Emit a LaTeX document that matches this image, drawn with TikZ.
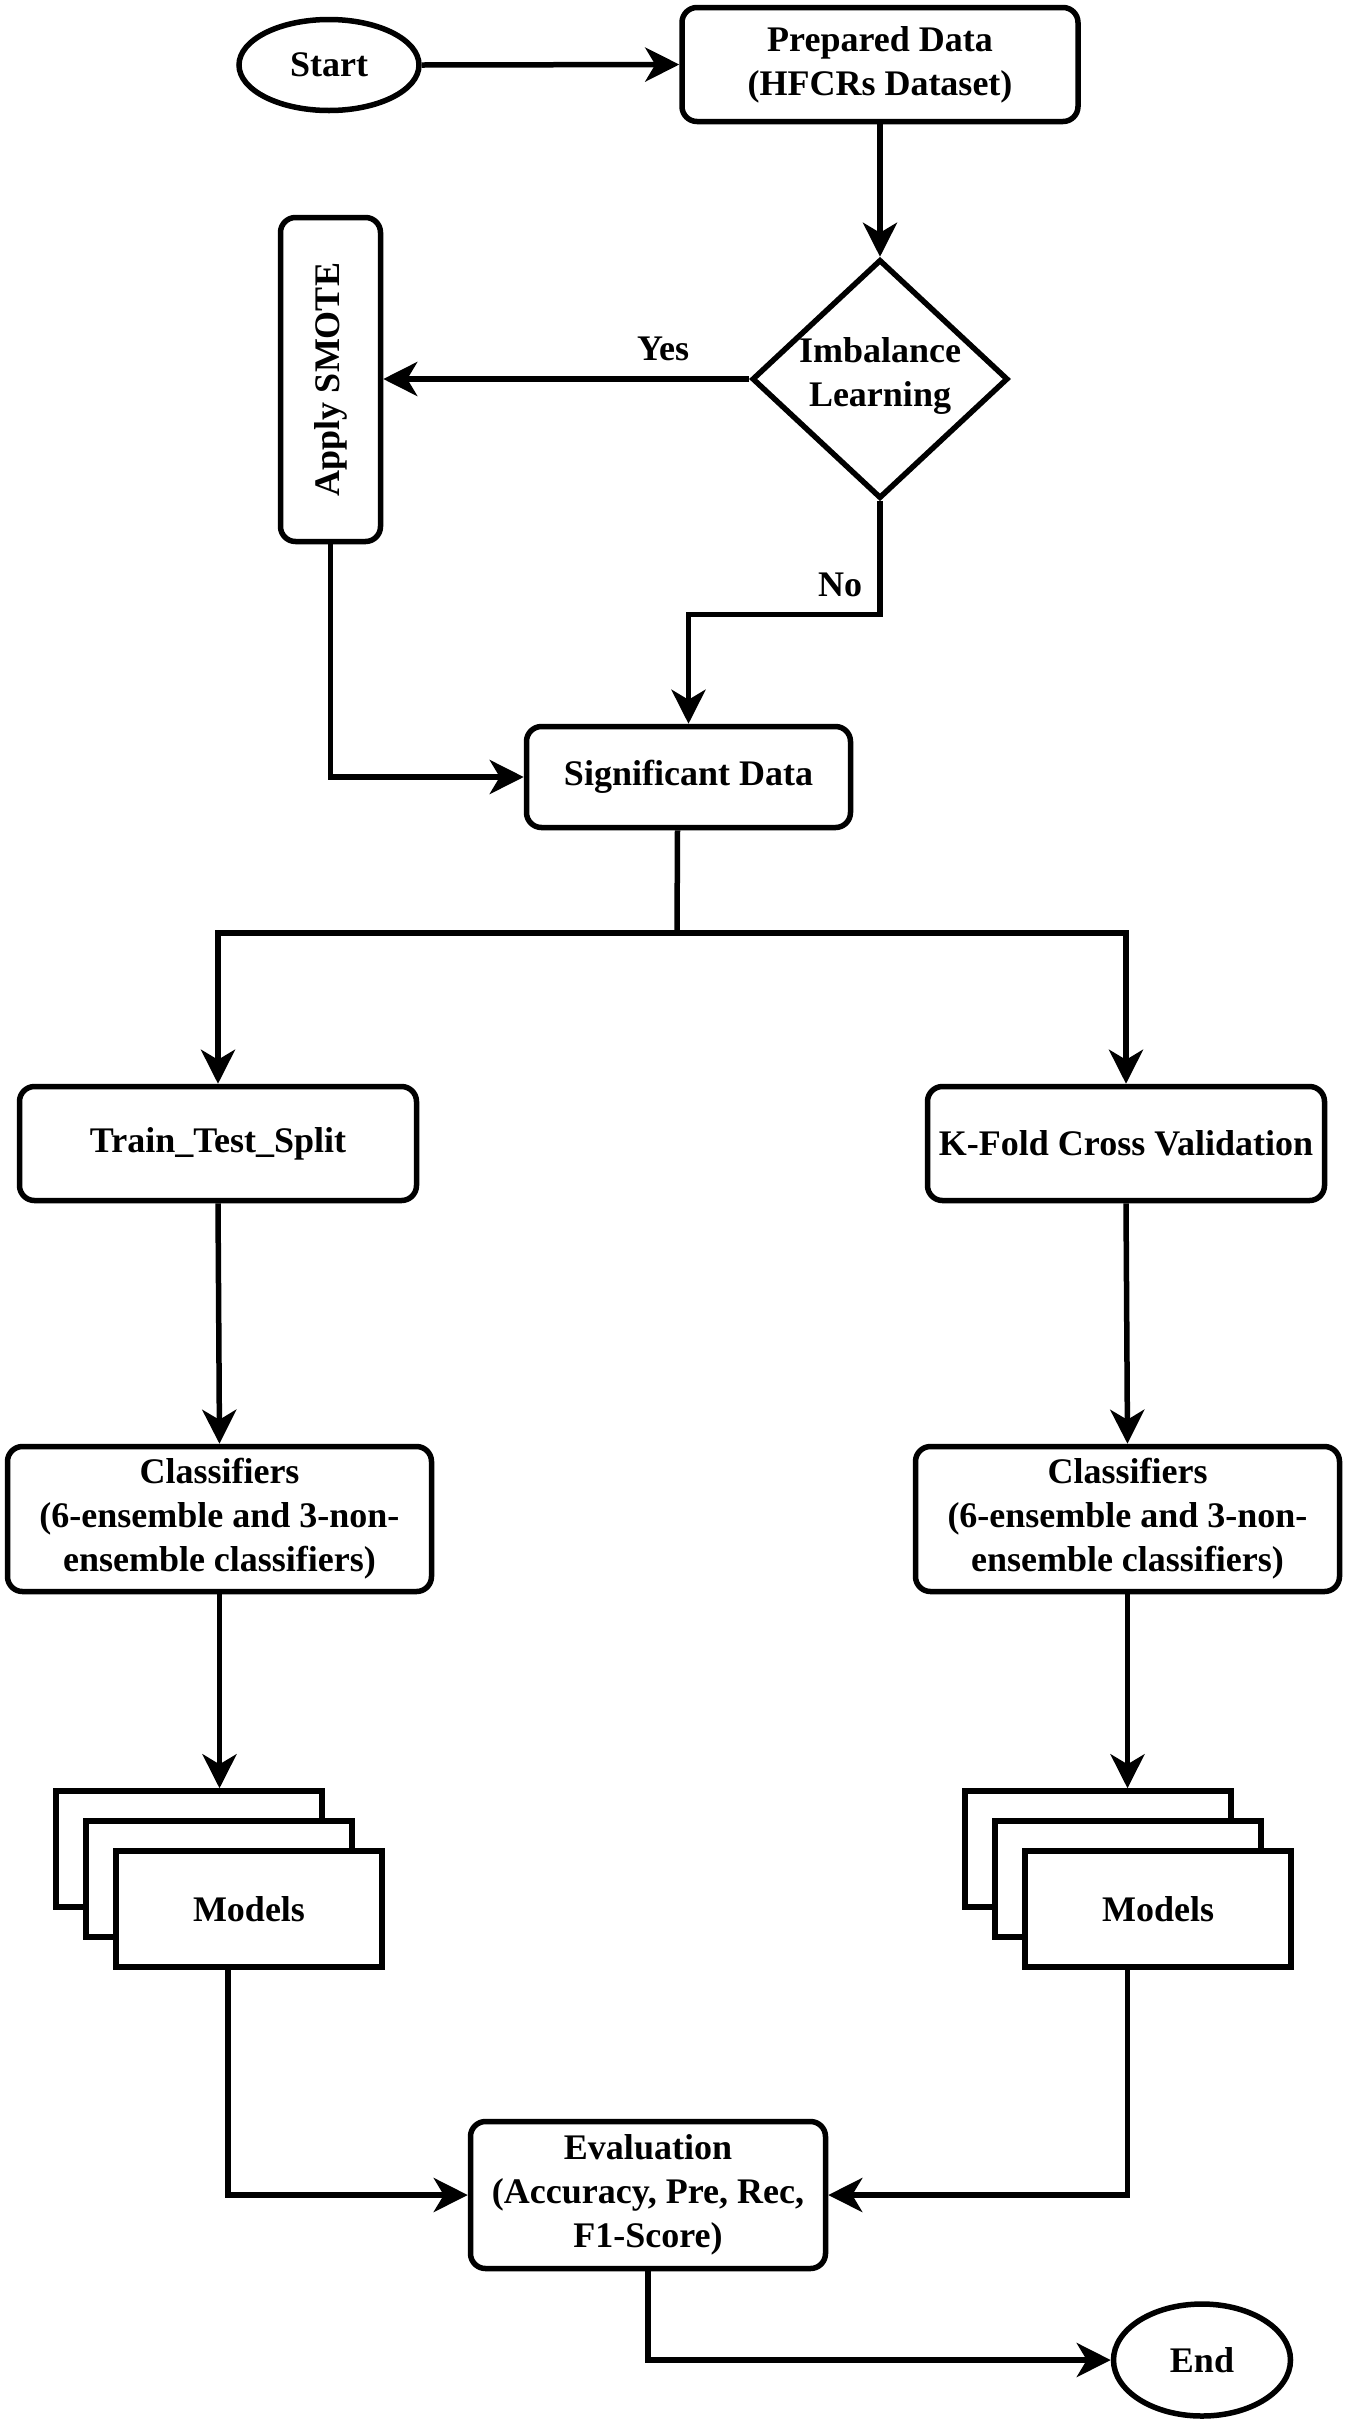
\documentclass[tikz,border=0pt]{standalone}
\usepackage{fontspec}
\setmainfont{Liberation Serif}
\usetikzlibrary{shapes.geometric,arrows.meta}
\begin{document}
\begin{tikzpicture}[x=1pt,y=-1pt,
  every node/.style={font=\fontsize{36}{44}\selectfont\bfseries, align=center, inner sep=0pt},
  line/.style={line width=5.5pt},
  arr/.style={line width=5.5pt, -{Stealth[length=34pt,width=34pt,inset=10pt]}},
  rbox/.style={draw, line width=5.5pt, rounded corners=15pt, fill=white},
  sbox/.style={draw, line width=5.5pt, fill=white, minimum width=266pt, minimum height=116pt},
  oval/.style={draw, line width=5.5pt, ellipse, minimum width=180pt, minimum height=91pt}
]
\useasboundingbox (0,0) rectangle (1347,2421);

\node[oval] (start) at (329,65) {Start};
\node[rbox, minimum width=396pt, minimum height=114pt] (prep) at (880,64.5) {Prepared Data\\(HFCRs Dataset)};
\node[draw, line width=5.5pt, diamond, minimum width=256pt, minimum height=239pt, fill=white] (dia) at (880,379) {};
\node (dialbl) at ([yshift=3pt]dia.center) {Imbalance\\Learning};
\node[rbox, minimum width=100pt, minimum height=324pt] (smote) at (330.5,379.5) {};
\node[rotate=90] (smotelbl) at (smote.center) {Apply SMOTE};
\node[rbox, minimum width=324pt, minimum height=101pt] (sig) at (688.5,777) {Significant Data};
\node[rbox, minimum width=397pt, minimum height=114pt] (train) at (218,1143.5) {Train\_Test\_Split};
\node[rbox, minimum width=397pt, minimum height=114pt] (kfold) at (1126,1143.5) {K-Fold Cross Validation};
\node[rbox, minimum width=424pt, minimum height=145pt] (classL) at (219.5,1519) {Classifiers\\(6-ensemble and 3-non-\\ensemble classifiers)};
\node[rbox, minimum width=424pt, minimum height=145pt] (classR) at (1127.5,1519) {Classifiers\\(6-ensemble and 3-non-\\ensemble classifiers)};

\node[sbox] (mbackL) at (189,1849) {};
\node[sbox] (mmidL) at (219,1879) {};
\node[sbox] (mfrontL) at (249,1909) {Models};
\node[sbox] (mbackR) at (1098,1849) {};
\node[sbox] (mmidR) at (1128,1879) {};
\node[sbox] (mfrontR) at (1158,1909) {Models};

\node[rbox, minimum width=355pt, minimum height=147pt] (eval) at (648,2195) {Evaluation\\(Accuracy, Pre, Rec,\\F1-Score)};
\node[oval, minimum width=177pt, minimum height=112pt] (end) at (1202,2360) {End};

\coordinate (br) at (677,933);

\draw[arr] (start.east) -- (prep.west);
\draw[arr] (prep.south) -- (dia.north);
\draw[arr] (dia.west) -- (dia.west -| smote.east);
\node (yes) at (663,349) {Yes};
\draw[arr] (dia.south) -- ++(0,113) -| (sig.north);
\node (no) at (840,585) {No};
\draw[arr] (smote.south) |- (sig.west);
\draw[line] ([xshift=-11pt]sig.south) -- (br);
\draw[arr] (br) -| (train.north);
\draw[arr] (br) -| (kfold.north);
\draw[arr] (train.south) -- (classL.north);
\draw[arr] (kfold.south) -- (classR.north);
\draw[arr] (classL.south) -- (classL.south |- mbackL.north);
\draw[arr] (classR.south) -- (classR.south |- mbackR.north);
\draw[arr] ([xshift=-21pt]mfrontL.south) |- (eval.west);
\draw[arr] (mfrontR.south -| classR.south) |- (eval.east);
\draw[arr] (eval.south) |- (end.west);
\end{tikzpicture}
\end{document}
